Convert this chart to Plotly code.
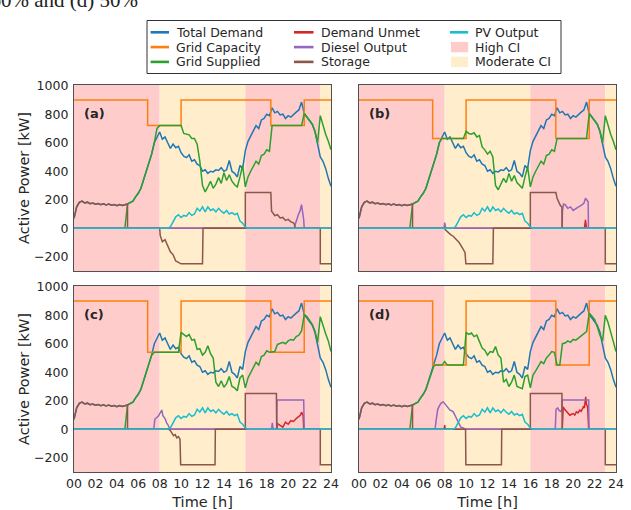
import numpy as np
import plotly.graph_objects as go
from plotly.subplots import make_subplots

# ---------------------------------------------------------------------------
# Time base (15-minute resolution, hours)
# ---------------------------------------------------------------------------
hours = np.linspace(0, 24, 97)

# Total demand [kW] (identical in all four scenarios)
total_demand = [
    70, 150, 182, 190, 178, 183, 172, 177, 168, 174,
    165, 171, 163, 169, 161, 167, 159, 166, 160, 165,
    170, 182, 190, 220, 245, 280, 340, 390, 445, 520,
    600, 640, 675, 625, 640, 600, 560, 590, 565, 575,
    530, 505, 495, 515, 470, 480, 450, 440, 400, 410,
    385, 400, 395, 410, 405, 425, 400, 410, 475, 400,
    385, 360, 440, 420, 545, 610, 650, 680, 720, 700,
    760, 770, 800, 790, 845, 810, 820, 795, 800, 770,
    790, 780, 800, 815, 830, 885, 805, 780, 755, 730,
    680, 600, 500, 470, 420, 350, 295,
]

# PV output [kW]
pv_output = [0] * 36 + [
    10, 50, 80, 95, 75, 90, 85, 110, 90, 100,
    140, 120, 150, 115, 150, 125, 135, 115, 140, 120,
    105, 125, 100, 110, 95, 105, 50, 35, 10,
] + [0] * 32

# Grid supplied [kW] per scenario
grid_supplied_a = [0] * 20 + [
    170, 182, 190, 220, 245, 280, 340, 390, 445, 520,
    600, 700, 720, 720, 720, 720, 720, 720, 720, 720,
    720, 665, 660, 655, 630, 630, 590, 470, 300, 255,
    290, 330, 280, 310, 355, 315, 390, 335, 375, 330,
    305, 290, 360, 440, 290, 360, 400, 430, 470, 450,
    510, 520, 550, 540, 720, 720, 720, 720, 720, 720,
    720, 720, 720, 720, 720, 720, 805, 780, 755, 730,
    680, 600, 790, 720, 660, 610, 550,
]
grid_supplied_b = [0] * 20 + [
    170, 182, 190, 220, 245, 280, 340, 390, 445, 520,
    600, 630, 630, 630, 630, 630, 630, 630, 630, 630,
    680, 665, 660, 670, 640, 650, 570, 550, 520, 540,
    500, 300, 270, 310, 350, 320, 385, 330, 370, 320,
    300, 280, 360, 430, 290, 360, 400, 430, 470, 450,
    510, 520, 550, 540, 630, 630, 630, 630, 630, 630,
    630, 630, 630, 630, 630, 630, 805, 780, 755, 730,
    680, 600, 790, 720, 660, 610, 550,
]
grid_supplied_c = [0] * 20 + [
    170, 182, 190, 220, 245, 280, 340, 390, 445, 520,
    540, 540, 540, 540, 540, 540, 540, 540, 540, 540,
    680, 665, 650, 665, 625, 630, 560, 565, 520, 540,
    585, 530, 500, 330, 300, 340, 295, 320, 370, 300,
    290, 270, 360, 380, 290, 360, 400, 430, 470, 450,
    510, 520, 550, 540, 540, 545, 595, 600, 610, 600,
    620, 630, 625, 650, 660, 690, 805, 790, 760, 735,
    690, 610, 790, 725, 670, 620, 545,
]
grid_supplied_d = [0] * 20 + [
    170, 182, 190, 220, 245, 280, 340, 390, 445, 450,
    450, 450, 475, 450, 450, 450, 450, 450, 450, 450,
    680, 665, 675, 650, 660, 610, 570, 555, 520, 545,
    540, 580, 520, 500, 330, 350, 300, 330, 380, 300,
    295, 285, 370, 380, 290, 380, 410, 440, 475, 460,
    500, 520, 545, 540, 450, 450, 600, 605, 620, 610,
    630, 625, 640, 650, 665, 685, 815, 790, 770, 720,
    660, 620, 800, 750, 690, 615, 545,
]

# Grid capacity [kW]: full level with two reduced windows
cap_times = [0, 6.88, 6.88, 10.0, 10.0, 18.38, 18.38, 21.5, 21.5, 24]
cap_a = [900, 900, 720, 720, 900, 900, 720, 720, 900, 900]
cap_b = [900, 900, 630, 630, 900, 900, 630, 630, 900, 900]
cap_c = [900, 900, 540, 540, 900, 900, 540, 540, 900, 900]
cap_d = [900, 900, 450, 450, 900, 900, 450, 450, 900, 900]

# Storage [kW] (+ discharge / - charge); overnight discharge shared by all
storage_night_t = list(np.linspace(0, 5, 21))
storage_night_v = [70, 150, 182, 190, 178, 183, 172, 177, 168, 174,
                   165, 171, 163, 169, 161, 167, 159, 166, 160, 165, 170]

storage_a_t = [5.0, 8.0, 8.05, 8.25, 8.5, 8.75, 9.0, 9.25, 9.5, 9.75,
               10.0, 12.0, 12.05, 16.0, 16.0, 18.38, 18.45, 18.6, 18.75, 19.0,
               19.25, 19.5, 19.75, 20.0, 20.25, 20.5, 20.6, 20.63, 23.0, 23.0, 24.0]
storage_a_v = [0, 0, -50, -95, -80, -120, -165, -185, -230, -240,
               -250, -250, 0, 0, 250, 250, 120, 105, 88, 95,
               72, 76, 55, 62, 45, 38, 25, 0, 0, -250, -250]

storage_b_t = [5.0, 8.0, 8.05, 8.33, 8.55, 8.8, 9.1, 9.35, 9.57, 9.73,
               9.9, 9.98, 12.5, 12.55, 16.0, 16.0, 18.39, 18.5, 18.62, 18.7,
               18.78, 18.9, 18.95, 18.97, 23.0, 23.0, 24.0]
storage_b_v = [0, 0, -10, -33, -45, -56, -80, -100, -127, -150,
               -170, -250, -250, 0, 0, 250, 250, 210, 187, 175,
               163, 152, 150, 0, 0, -250, -250]

storage_c_t = [5.0, 8.85, 9.0, 9.15, 9.3, 9.45, 9.6, 9.75, 9.9, 9.96,
               13.17, 13.2, 16.0, 16.0, 18.9, 18.93, 23.0, 23.0, 24.0]
storage_c_v = [0, 0, -10, -30, -45, -38, -60, -52, -70, -250,
               -250, 0, 0, 250, 250, 0, 0, -250, -250]

storage_d_t = [5.0, 9.95, 9.98, 13.3, 13.33, 16.0, 16.0, 18.95, 18.98, 23.0, 23.0, 24.0]
storage_d_v = [0, 0, -250, -250, 0, 0, 250, 250, 0, 0, -250, -250]

# Diesel output [kW]
diesel_a_t = [0, 20.6, 20.65, 20.8, 20.95, 21.1, 21.25, 21.45, 21.5, 24]
diesel_a_v = [0, 0, 25, 70, 95, 120, 165, 60, 0, 0]

diesel_b_t = [0, 7.95, 8.0, 8.1, 18.97, 19.0, 19.1, 19.25, 19.5, 19.75,
              20.0, 20.25, 20.5, 20.75, 21.0, 21.15, 21.3, 21.4, 21.43, 24]
diesel_b_v = [0, 0, 40, 0, 0, 120, 170, 165, 140, 150,
              125, 140, 150, 160, 175, 210, 190, 185, 0, 0]

diesel_c_t = [0, 7.45, 7.55, 7.75, 7.9, 8.05, 8.2, 8.3, 8.5, 8.65,
              8.8, 8.95, 18.45, 18.52, 18.6, 18.93, 18.96, 21.45, 21.5, 24]
diesel_c_v = [0, 0, 70, 85, 95, 115, 135, 95, 75, 45,
              28, 0, 0, 45, 0, 0, 205, 205, 0, 0]

diesel_d_t = [0, 7.1, 7.2, 7.35, 7.55, 7.7, 7.87, 8.0, 8.17, 8.35,
              8.5, 8.65, 8.8, 9.04, 9.2, 9.35, 9.5, 9.75, 9.9, 18.33,
              18.4, 18.55, 18.7, 18.85, 18.95, 18.98, 21.45, 21.48, 24]
diesel_d_v = [0, 0, 60, 140, 170, 185, 192, 180, 169, 150,
              134, 130, 122, 86, 60, 30, 15, 10, 0, 0,
              140, 150, 130, 125, 140, 205, 205, 0, 0]

# Demand unmet [kW]
unmet_a_t = [0, 24]
unmet_a_v = [0, 0]

unmet_b_t = [0, 21.05, 21.15, 21.25, 24]
unmet_b_v = [0, 0, 58, 0, 0]

unmet_c_t = [0, 18.96, 19.0, 19.25, 19.5, 19.75, 20.0, 20.25, 20.5, 20.75,
             21.0, 21.15, 21.25, 21.4, 21.45, 24]
unmet_c_v = [0, 0, 40, 30, 15, 50, 35, 60, 55, 75,
             90, 100, 120, 95, 0, 0]

unmet_d_t = [0, 7.95, 8.0, 8.05, 18.98, 19.0, 19.07, 19.2, 19.38, 19.5,
             19.69, 19.85, 20.0, 20.15, 20.3, 20.45, 20.6, 20.75, 20.95, 21.05,
             21.17, 21.25, 21.35, 21.45, 24]
unmet_d_v = [0, 0, 30, 0, 0, 150, 157, 140, 122, 115,
             98, 105, 110, 100, 122, 115, 134, 125, 157, 150,
             228, 170, 160, 0, 0]

# Carbon-intensity periods
ci_start = [0, 8, 16, 23]
ci_end = [8, 16, 23, 24]
ci_level = ["High", "Moderate", "High", "Moderate"]

panel_labels = ["(a)", "(b)", "(c)", "(d)"]
x_tick_values = list(range(0, 25, 2))
x_tick_text = [f"{h:02d}" for h in x_tick_values]
y_tick_values = [-200, 0, 200, 400, 600, 800, 1000]

# ---------------------------------------------------------------------------
# Styling
# ---------------------------------------------------------------------------
C_DEMAND = "#1f77b4"
C_CAP = "#ff7f0e"
C_GRID = "#2ca02c"
C_UNMET = "#d62728"
C_DIESEL = "#9467bd"
C_STORAGE = "#8c564b"
C_PV = "#17becf"
C_HIGH = "#ffcccc"
C_MOD = "#ffedcc"
CI_COLOR = {"High": C_HIGH, "Moderate": C_MOD}
FONT = "DejaVu Sans"
TEXT = "#262626"
FRAME = "#505050"
LW = 1.5

W, H = 631, 510
M_L, M_R, M_T, M_B = 74, 15, 85, 38
PLOT_W = W - M_L - M_R
PLOT_H = H - M_T - M_B


def to_paper(px, py):
    """Pixel position on the page -> paper coordinates."""
    return (px - M_L) / PLOT_W, (H - M_B - py) / PLOT_H


panels = [
    dict(row=1, col=1, grid=grid_supplied_a, cap=cap_a,
         st=(storage_a_t, storage_a_v), di=(diesel_a_t, diesel_a_v), un=(unmet_a_t, unmet_a_v)),
    dict(row=1, col=2, grid=grid_supplied_b, cap=cap_b,
         st=(storage_b_t, storage_b_v), di=(diesel_b_t, diesel_b_v), un=(unmet_b_t, unmet_b_v)),
    dict(row=2, col=1, grid=grid_supplied_c, cap=cap_c,
         st=(storage_c_t, storage_c_v), di=(diesel_c_t, diesel_c_v), un=(unmet_c_t, unmet_c_v)),
    dict(row=2, col=2, grid=grid_supplied_d, cap=cap_d,
         st=(storage_d_t, storage_d_v), di=(diesel_d_t, diesel_d_v), un=(unmet_d_t, unmet_d_v)),
]

fig = make_subplots(rows=2, cols=2)


def line(x, y, color, name):
    return go.Scatter(x=x, y=y, mode="lines", name=name, showlegend=False,
                      line=dict(color=color, width=LW), hoverinfo="x+y+name")


for p in panels:
    r, c = p["row"], p["col"]
    st_t = storage_night_t + p["st"][0]
    st_v = storage_night_v + p["st"][1]
    fig.add_trace(line(hours, total_demand, C_DEMAND, "Total Demand"), row=r, col=c)
    fig.add_trace(line(cap_times, p["cap"], C_CAP, "Grid Capacity"), row=r, col=c)
    fig.add_trace(line(hours, p["grid"], C_GRID, "Grid Supplied"), row=r, col=c)
    fig.add_trace(line(p["un"][0], p["un"][1], C_UNMET, "Demand Unmet"), row=r, col=c)
    fig.add_trace(line(p["di"][0], p["di"][1], C_DIESEL, "Diesel Output"), row=r, col=c)
    fig.add_trace(line(st_t, st_v, C_STORAGE, "Storage"), row=r, col=c)
    fig.add_trace(line(hours, pv_output, C_PV, "PV Output"), row=r, col=c)

# Subplot geometry
x_left = [0, (331 - M_L) / PLOT_W]
x_right = [(359 - M_L) / PLOT_W, 1]
y_top = [(H - M_B - 271) / PLOT_H, 1]
y_bottom = [0, (H - M_B - 286) / PLOT_H]

axis_common = dict(showline=True, mirror=True, linecolor=FRAME, linewidth=1.2,
                   showgrid=False, zeroline=False, ticks="",
                   tickfont=dict(family=FONT, size=12.5, color=TEXT))

for r, yd in ((1, y_top), (2, y_bottom)):
    for c, xd in ((1, x_left), (2, x_right)):
        fig.update_xaxes(domain=xd, range=[0, 24], tickvals=x_tick_values,
                         ticktext=x_tick_text, showticklabels=(r == 2),
                         ticklabelstandoff=0, row=r, col=c, **axis_common)
        fig.update_yaxes(domain=yd, range=[-300, 1005], tickvals=y_tick_values,
                         showticklabels=(c == 1), ticklabelstandoff=2,
                         row=r, col=c, **axis_common)
        if r == 2:
            fig.update_xaxes(title=dict(text="Time [h]", standoff=6,
                                        font=dict(family=FONT, size=14.5, color=TEXT)),
                             row=r, col=c)
        if c == 1:
            fig.update_yaxes(title=dict(text="Active Power [kW]", standoff=0,
                                        font=dict(family=FONT, size=14.5, color=TEXT)),
                             row=r, col=c)

shapes = []
annotations = []
axis_ids = [("x", "y"), ("x2", "y2"), ("x3", "y3"), ("x4", "y4")]

# Carbon-intensity background bands
for xa, ya in axis_ids:
    for x0, x1, lvl in zip(ci_start, ci_end, ci_level):
        shapes.append(dict(type="rect", xref=xa, yref=f"{ya} domain", x0=x0, x1=x1,
                           y0=0, y1=1, fillcolor=CI_COLOR[lvl], line=dict(width=0),
                           layer="below"))

for label, (xa, ya) in zip(panel_labels, axis_ids):
    annotations.append(dict(text=f"<b>{label}</b>", xref=f"{xa} domain", yref=f"{ya} domain",
                            x=0.031, y=0.849, xanchor="left", yanchor="middle",
                            showarrow=False, font=dict(family=FONT, size=13, color=TEXT)))

# Legend (three columns, drawn in the top margin)
bx0, by0 = to_paper(147, 73.5)
bx1, by1 = to_paper(561, 20.5)
shapes.append(dict(type="rect", xref="paper", yref="paper", x0=bx0, y0=by0, x1=bx1, y1=by1,
                   line=dict(color="#333333", width=1), fillcolor="white", layer="above"))

legend_rows = [32.3, 47.1, 61.9]
legend_cols = [(150.6, 169.0, 175.0), (294.0, 313.5, 319.6), (450.0, 468.2, 474.3)]
legend_items = [
    [("Total Demand", C_DEMAND, "line"), ("Grid Capacity", C_CAP, "line"), ("Grid Supplied", C_GRID, "line")],
    [("Demand Unmet", C_UNMET, "line"), ("Diesel Output", C_DIESEL, "line"), ("Storage", C_STORAGE, "line")],
    [("PV Output", C_PV, "line"), ("High CI", C_HIGH, "patch"), ("Moderate CI", C_MOD, "patch")],
]
for (lx0, lx1, tx), items in zip(legend_cols, legend_items):
    for py, (name, color, kind) in zip(legend_rows, items):
        if kind == "line":
            x0, y0 = to_paper(lx0, py)
            x1, _ = to_paper(lx1, py)
            shapes.append(dict(type="line", xref="paper", yref="paper", x0=x0, y0=y0, x1=x1, y1=y0,
                               line=dict(color=color, width=2.6), layer="above"))
        else:
            x0, y0 = to_paper(lx0 + 1, py + 5.2)
            x1, y1 = to_paper(lx1, py - 5.2)
            shapes.append(dict(type="rect", xref="paper", yref="paper", x0=x0, y0=y0, x1=x1, y1=y1,
                               line=dict(width=0), fillcolor=color, layer="above"))
        ax, ay = to_paper(tx, py)
        annotations.append(dict(text=name, xref="paper", yref="paper", x=ax, y=ay,
                                xanchor="left", yanchor="middle", showarrow=False,
                                borderpad=0,
                                font=dict(family=FONT, size=12.5, color=TEXT)))

# Caption fragment at the page top
cx, cy = to_paper(140, -0.5)
annotations.append(dict(text="(c) 60% and (d) 50%", xref="paper", yref="paper", x=cx, y=cy,
                        xanchor="right", yanchor="middle", showarrow=False,
                        font=dict(family="Liberation Serif", size=21, color="#222222")))

fig.update_layout(
    width=W, height=H,
    margin=dict(l=M_L, r=M_R, t=M_T, b=M_B, autoexpand=False),
    paper_bgcolor="white", plot_bgcolor="white",
    showlegend=False,
    annotations=annotations,
    shapes=shapes,
    font=dict(family=FONT, color=TEXT),
)

fig.write_html("out.html")
